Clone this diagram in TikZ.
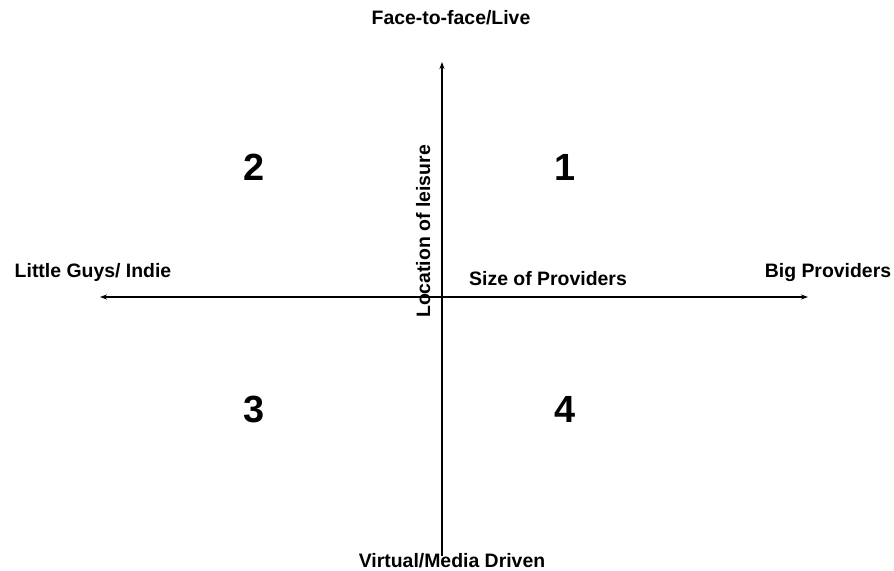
\documentclass[tikz,border=0pt]{standalone}
\usepackage{fontspec}
\setmainfont{Liberation Sans}
\usetikzlibrary{arrows.meta}
\begin{document}
\begin{tikzpicture}[x=1bp,y=-1bp,
  axis/.style={line width=1.3bp,-{Stealth[length=7bp,width=5bp]}},
  lbl/.style={font=\fontsize{19.5}{23}\selectfont\bfseries,inner sep=0pt,anchor=base},
  num/.style={font=\fontsize{38}{44}\selectfont\bfseries,inner sep=0pt,anchor=center}]
\useasboundingbox (0,0) rectangle (894,571);
\coordinate (c) at (442,297);
\coordinate (top) at (442,62);
\coordinate (bot) at (442,556);
\coordinate (lft) at (100,297);
\coordinate (rgt) at (808,297);
\draw[axis] (bot) -- (top);
\draw[axis] (c) -- (lft);
\draw[axis] (c) -- (rgt);
\node[lbl] (ftf) at (451,25) {Face-to-face/Live};
\node[lbl] (vmd) at (452,567) {Virtual/Media Driven};
\node[lbl] (lgi) at (93,277.3) {Little Guys/ Indie};
\node[lbl] (bp) at (828,277.3) {Big Providers};
\node[lbl] (sop) at (548,285) {Size of Providers};
\node[lbl,rotate=90] (lol) at (430,231.5) {Location of leisure};
\node[num] (n1) at (565,167) {1};
\node[num] (n2) at (254,167) {2};
\node[num] (n3) at (254,409) {3};
\node[num] (n4) at (565,409) {4};
\end{tikzpicture}
\end{document}
